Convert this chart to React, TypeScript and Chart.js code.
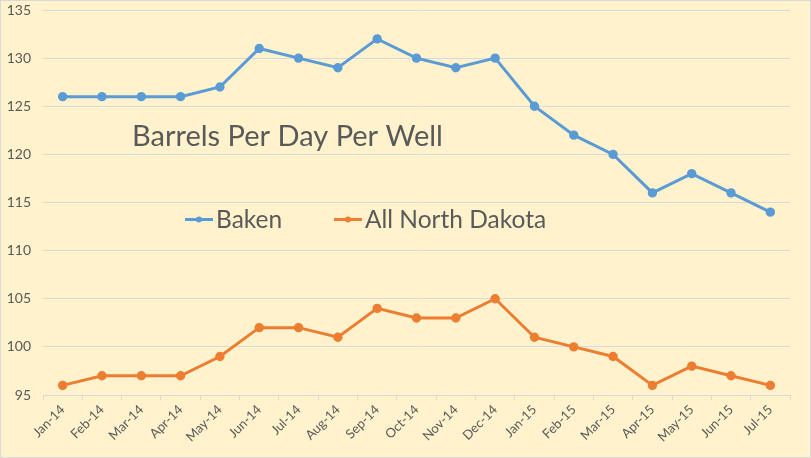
import React, { useEffect, useRef } from "react";
import { Chart, registerables } from "chart.js";

Chart.register(...registerables);

const categories = ["Jan-14","Feb-14","Mar-14","Apr-14","May-14","Jun-14","Jul-14","Aug-14","Sep-14","Oct-14","Nov-14","Dec-14","Jan-15","Feb-15","Mar-15","Apr-15","May-15","Jun-15","Jul-15"];
const bakenValues = [126,126,126,126,127,131,130,129,132,130,129,130,125,122,120,116,118,116,114];
const northDakotaValues = [96,97,97,97,99,102,102,101,104,103,103,105,101,100,99,96,98,97,96];
const seriesNames = ["Baken", "All North Dakota"];
const chartTitle = "Barrels Per Day Per Well";
const yMin = 95;
const yMax = 135;
const yStep = 5;

const BLUE = "#5B9BD5";
const ORANGE = "#ED7D31";
const TEXT = "#595959";
const GRID = "#D9D9D9";
const BG = "#FFF2CC";
const FONT = "Lato, 'Open Sans', sans-serif";

export default function App() {
  const ref = useRef<HTMLCanvasElement | null>(null);
  useEffect(() => {
    document.body.style.margin = "0";
    const canvas = ref.current!;
    const overlay = {
      id: "overlay",
      beforeDraw(chart: any) {
        const ctx = chart.ctx;
        ctx.save();
        ctx.fillStyle = BG;
        ctx.fillRect(0, 0, chart.width, chart.height);
        ctx.strokeStyle = GRID;
        ctx.lineWidth = 1;
        ctx.strokeRect(0.5, 0.5, chart.width - 1, chart.height - 1);
        ctx.restore();
      },
      afterDraw(chart: any) {
        const ctx = chart.ctx;
        ctx.save();
        ctx.fillStyle = TEXT;
        ctx.textBaseline = "alphabetic";
        ctx.textAlign = "left";
        ctx.font = `29px ${FONT}`;
        ctx.fillText(chartTitle, 132, 146);
        const items = [
          { x: 185, color: BLUE, label: seriesNames[0] },
          { x: 334, color: ORANGE, label: seriesNames[1] },
        ];
        ctx.font = `24.5px ${FONT}`;
        for (const it of items) {
          ctx.strokeStyle = it.color;
          ctx.lineWidth = 3;
          ctx.beginPath();
          ctx.moveTo(it.x, 219.5);
          ctx.lineTo(it.x + 28, 219.5);
          ctx.stroke();
          ctx.fillStyle = it.color;
          ctx.beginPath();
          ctx.arc(it.x + 14, 219.5, 3, 0, Math.PI * 2);
          ctx.fill();
          ctx.fillStyle = TEXT;
          ctx.fillText(it.label, it.x + 31, 228);
        }
        ctx.restore();
      },
    };
    const chart = new Chart(canvas, {
      type: "line",
      data: {
        labels: categories,
        datasets: [
          {
            label: seriesNames[0],
            data: bakenValues,
            borderColor: BLUE,
            backgroundColor: BLUE,
            borderWidth: 3,
            pointRadius: 3.2,
            pointHoverRadius: 3.2,
            tension: 0,
          },
          {
            label: seriesNames[1],
            data: northDakotaValues,
            borderColor: ORANGE,
            backgroundColor: ORANGE,
            borderWidth: 3,
            pointRadius: 3.2,
            pointHoverRadius: 3.2,
            tension: 0,
          },
        ],
      },
      options: {
        animation: false,
        responsive: false,
        devicePixelRatio: 1,
        layout: { padding: { top: 10, right: 21, left: 0, bottom: 0 } },
        plugins: { legend: { display: false }, title: { display: false }, tooltip: { enabled: false } },
        scales: {
          x: {
            type: "category",
            offset: true,
            grid: {
              offset: true,
              display: true,
              drawOnChartArea: false,
              drawTicks: true,
              tickLength: 5,
              color: GRID,
            },
            border: { display: true, color: GRID, width: 1 },
            ticks: {
              color: TEXT,
              font: { family: FONT, size: 13 },
              minRotation: 45,
              maxRotation: 45,
              autoSkip: false,
              padding: 2,
            },
            afterFit(scale: any) {
              scale.height = 63;
            },
          },
          y: {
            min: yMin,
            max: yMax,
            ticks: {
              stepSize: yStep,
              color: TEXT,
              font: { family: FONT, size: 14 },
              padding: 0,
            },
            grid: { color: GRID, drawTicks: true, tickLength: 12, tickColor: "rgba(0,0,0,0)", lineWidth: 1 },
            border: { display: false },
            afterFit(scale: any) {
              scale.width = 43;
            },
          },
        },
      },
      plugins: [overlay],
    });
    return () => chart.destroy();
  }, []);
  return <canvas ref={ref} width={811} height={458} style={{ display: "block" }} />;
}
